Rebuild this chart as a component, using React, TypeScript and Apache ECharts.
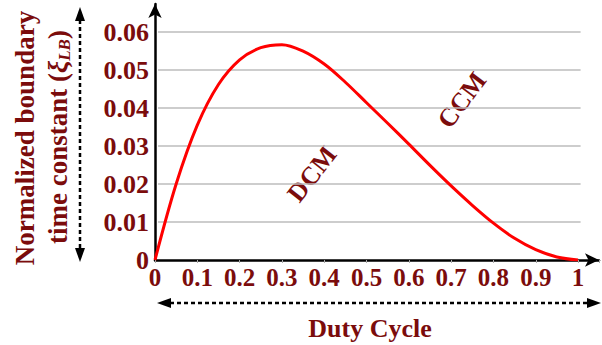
import React, { useEffect, useRef } from "react";
import * as echarts from "echarts";

const dutyCycle = [0, 0.05, 0.1, 0.15, 0.2, 0.25, 0.3, 0.35, 0.4, 0.45, 0.5, 0.55, 0.6, 0.65, 0.7, 0.75, 0.8, 0.85, 0.9, 0.95, 1];
const xiLB = [0, 0.02, 0.0355, 0.0462, 0.0527, 0.0559, 0.0567, 0.055, 0.0516, 0.0468, 0.0414, 0.036, 0.0305, 0.0249, 0.0195, 0.0144, 0.0097, 0.0057, 0.0027, 0.0008, 0];
const yTicks = ["0", "0.01", "0.02", "0.03", "0.04", "0.05", "0.06"];
const xTicks = ["0", "0.1", "0.2", "0.3", "0.4", "0.5", "0.6", "0.7", "0.8", "0.9", "1"];

const DARK = "#7b0c0c";
const FONT = "'Liberation Serif', 'Times New Roman', serif";

export default function App() {
  const ref = useRef<HTMLDivElement>(null);
  useEffect(() => {
    const chart = echarts.init(ref.current!, null, { renderer: "svg" });
    const data = dutyCycle.map((d, i) => [d, xiLB[i]]);
    const gridLines = yTicks.slice(1).map((t) => [
      { coord: [0.007, parseFloat(t)] },
      { coord: [1.006, parseFloat(t)] },
    ]);
    chart.setOption({
      animation: false,
      grid: { left: 155, right: 2, top: 4, bottom: 85 },
      xAxis: {
        type: "value",
        min: 0,
        max: 1.0495,
        interval: 0.1,
        axisLine: { show: true, lineStyle: { color: "#000", width: 2.5 }, symbol: ["none", "arrow"], symbolSize: [10, 14] },
        axisTick: { show: true, length: 3, lineStyle: { color: "#aaaaaa", width: 1 } },
        splitLine: { show: false },
        axisLabel: {
          color: DARK,
          fontFamily: FONT,
          fontWeight: "bold",
          fontSize: 25,
          margin: 5,
          formatter: (v: number) => {
            const i = Math.round(v * 10);
            return Math.abs(v * 10 - i) < 1e-6 && i <= 10 ? xTicks[i] : "";
          },
        },
      },
      yAxis: {
        type: "value",
        min: 0,
        max: 0.0674,
        interval: 0.01,
        axisLine: { show: true, lineStyle: { color: "#000", width: 2.5 }, symbol: ["none", "arrow"], symbolSize: [10, 14] },
        axisTick: { show: false },
        splitLine: { show: false },
        axisLabel: {
          color: DARK,
          fontFamily: FONT,
          fontWeight: "bold",
          fontSize: 26,
          margin: 6,
          formatter: (v: number) => {
            const i = Math.round(v * 100);
            return Math.abs(v * 100 - i) < 1e-6 && i <= 6 ? yTicks[i] : "";
          },
        },
      },
      series: [
        {
          type: "line",
          data,
          smooth: 0.35,
          showSymbol: false,
          lineStyle: { color: "#ff0000", width: 3 },
          z: 5,
          markLine: {
            silent: true,
            symbol: ["none", "none"],
            label: { show: false },
            lineStyle: { color: "#bdbdbd", width: 1.5, type: "solid" },
            data: gridLines,
            z: 1,
          },
        },
      ],
      graphic: [
        {
          type: "text",
          x: 25,
          y: 138,
          rotation: Math.PI / 2,
          style: { text: "Normalized boundary", fill: DARK, font: `bold 27px ${FONT}`, align: "center", verticalAlign: "middle" },
        },
        {
          type: "text",
          x: 58,
          y: 137,
          rotation: Math.PI / 2,
          style: {
            text: "{n|time constant (}{xi|ξ}{sub|LB}{n|)}",
            align: "center",
            verticalAlign: "middle",
            rich: {
              n: { fill: DARK, fontFamily: FONT, fontWeight: "bold", fontSize: 27 },
              xi: { fill: DARK, fontFamily: FONT, fontStyle: "italic", fontWeight: "bold", fontSize: 27 },
              sub: { fill: DARK, fontFamily: FONT, fontStyle: "italic", fontWeight: "bold", fontSize: 17, padding: [12, 0, 0, 0] },
            },
          },
        },
        { type: "line", shape: { x1: 80, y1: 20, x2: 80, y2: 249 }, style: { stroke: "#000", lineWidth: 2.5, lineDash: [4, 3] } },
        { type: "polygon", shape: { points: [[80, 7], [75, 21], [85, 21]] }, style: { fill: "#000" } },
        { type: "polygon", shape: { points: [[80, 262], [75, 248], [85, 248]] }, style: { fill: "#000" } },
        { type: "line", shape: { x1: 170, y1: 303, x2: 588, y2: 303 }, style: { stroke: "#000", lineWidth: 2.5, lineDash: [4, 3] } },
        { type: "polygon", shape: { points: [[157, 303], [171, 298], [171, 308]] }, style: { fill: "#000" } },
        { type: "polygon", shape: { points: [[601, 303], [587, 298], [587, 308]] }, style: { fill: "#000" } },
        {
          type: "text",
          x: 370,
          y: 328,
          style: { text: "Duty Cycle", fill: DARK, font: `bold 26px ${FONT}`, align: "center", verticalAlign: "middle" },
        },
        {
          type: "text",
          x: 312,
          y: 174,
          rotation: (52 * Math.PI) / 180,
          style: { text: "DCM", fill: DARK, font: `bold 26px ${FONT}`, align: "center", verticalAlign: "middle" },
        },
        {
          type: "text",
          x: 462,
          y: 100,
          rotation: (53 * Math.PI) / 180,
          style: { text: "CCM", fill: DARK, font: `bold 26px ${FONT}`, align: "center", verticalAlign: "middle" },
        },
      ],
    });
    return () => chart.dispose();
  }, []);
  return <div ref={ref} style={{ width: 602, height: 345, position: "fixed", left: 0, top: 0, background: "#fff" }} />;
}
